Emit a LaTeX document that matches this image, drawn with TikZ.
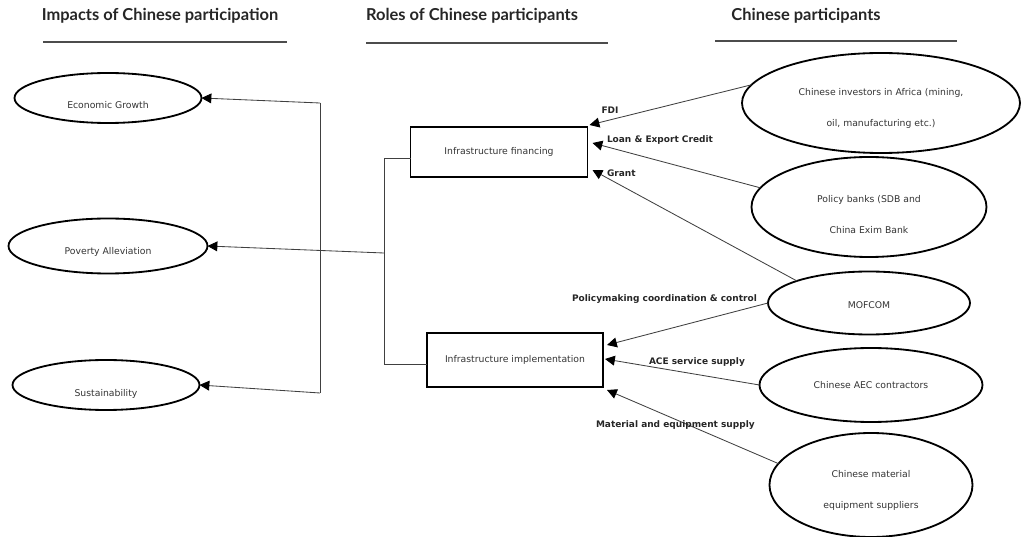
\documentclass[tikz,border=0pt]{standalone}
\usepackage{fontspec}
\setmainfont{DejaVu Sans}
\newfontfamily\headfont{Lato}
\usetikzlibrary{shapes.geometric}
\usetikzlibrary{arrows.meta}
\tikzset{
% Define standard arrow tip
>={Triangle[length=7pt, width=7pt, color=black]}
}
\newcommand\pxu{0.025cm}

\begin{document}
\begin{tikzpicture}[x=\pxu, y=-\pxu, inner sep=0, outer sep=0,
  heading/.style={font=\headfont\bfseries\fontsize{11.7}{14}\selectfont, text=black!85},
  topic/.style={ellipse, draw=black, line width=1.3pt, text=black!80,
    align=center, font=\fontsize{6.6}{22}\selectfont, text depth=0pt},
  drop/.style={text height=#1},
  role/.style={rectangle, draw=black, line width=1.3pt, text=black!80,
    font=\fontsize{6.6}{8}\selectfont},
  flow/.style={draw=black!75, line width=0.6pt},
  flowlabel/.style={font=\bfseries\fontsize{6.4}{8}\selectfont, text=black!85}]
  \useasboundingbox (0,0) rectangle (1022,537);

  % headings
  \node[heading] (h-impact) at (160,16) {Impacts of Chinese participation};
  \node[heading] (h-roles) at (472,16) {Roles of Chinese participants};
  \node[heading] (h-part) at (806,16) {Chinese participants};
  \draw[black!70, line width=0.8pt] (43,42) -- (287,42);
  \draw[black!70, line width=0.8pt] (366,43) -- (608,43);
  \draw[black!70, line width=0.8pt] (715,41) -- (957,41);

  % impacts
  \node[topic, drop=15pt, minimum width=187*\pxu, minimum height=50*\pxu] (econ) at (108,98) {Economic Growth};
  \node[topic, drop=12pt, minimum width=199*\pxu, minimum height=55*\pxu] (pov) at (108,246) {Poverty Alleviation};
  \node[topic, drop=16pt, minimum width=187*\pxu, minimum height=50*\pxu] (sus) at (106,385) {Sustainability};

  % roles
  \node[role, minimum width=177*\pxu, minimum height=50*\pxu] (fin) at (499,152) {Infrastructure financing};
  \node[role, minimum width=176*\pxu, minimum height=54*\pxu] (impl) at (515,360) {Infrastructure implementation};

  % participants
  \node[topic, drop=34pt, minimum width=278*\pxu, minimum height=100*\pxu] (inv) at (881,103)
    {Chinese investors in Africa (mining,\\oil, manufacturing etc.)};
  \node[topic, drop=38pt, minimum width=235*\pxu, minimum height=100*\pxu] (pb) at (869,207)
    {Policy banks (SDB and\\China Exim Bank};
  \node[topic, drop=8pt, minimum width=202*\pxu, minimum height=63*\pxu] (mof) at (869,303) {MOFCOM};
  \node[topic, drop=5pt, minimum width=223*\pxu, minimum height=74*\pxu] (aec) at (871,385) {Chinese AEC contractors};
  \node[topic, drop=34pt, minimum width=203*\pxu, minimum height=104*\pxu] (mat) at (871,485)
    {Chinese material\\equipment suppliers};

  % junctions
  \coordinate (jt) at (320,103);
  \coordinate (jb) at (320,393);
  \coordinate (rt) at (384,158);
  \coordinate (rc) at (384,253);
  \coordinate (rb) at (384,364);

  \draw[flow] (jt) -- (jb);
  \draw[flow, ->] (jt) -- (econ.east);
  \draw[flow, ->] (jb) -- (sus.east);
  \draw[flow] (fin.west |- rt) -- (rt) -- (rb) -- (impl.west |- rb);
  \draw[flow, ->] (rc) -- (pov.east);

  % flows into roles
  \draw[flow, ->] (inv.172) -- ([shift={(2,-2)}]fin.north east);
  \draw[flow, ->] (pb.170) -- ([shift={(5,-9)}]fin.east);
  \draw[flow, ->] (mof.163) -- ([shift={(5,-7)}]fin.south east);
  \draw[flow, ->] (mof.west) -- ([shift={(4,-15)}]impl.east);
  \draw[flow, ->] (aec.west) -- ([shift={(2,-1)}]impl.east);
  \draw[flow, ->] (mat.167) -- ([shift={(4,3)}]impl.south east);

  % flow labels
  \node[flowlabel] (l-fdi) at (610,110) {FDI};
  \node[flowlabel, anchor=west] (l-loan) at (607,140) {Loan \& Export Credit};
  \node[flowlabel, anchor=west] (l-grant) at (607,173) {Grant};
  \node[flowlabel, anchor=west] (l-policy) at (572,299) {Policymaking coordination \& control};
  \node[flowlabel, anchor=west] (l-ace) at (649,362) {ACE service supply};
  \node[flowlabel, anchor=west] (l-mat) at (596,425) {Material and equipment supply};
\end{tikzpicture}
\end{document}
